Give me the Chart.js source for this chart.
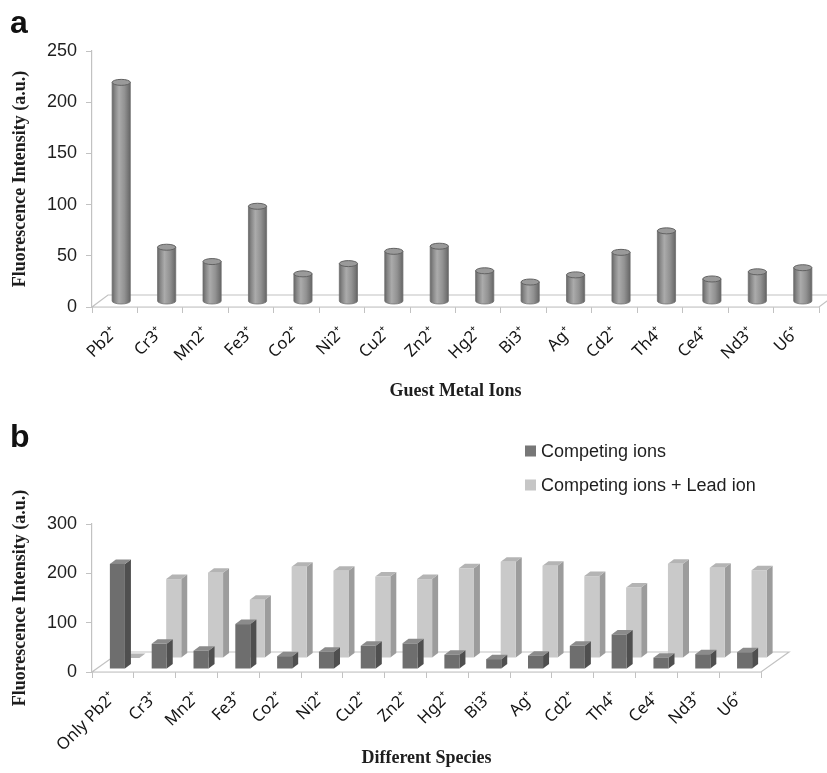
<!DOCTYPE html>
<html>
<head>
<meta charset="utf-8">
<script src="https://cdn.jsdelivr.net/npm/chart.js@4.4.1/dist/chart.umd.min.js"></script>
<style>
  html, body { margin: 0; padding: 0; background: #fff; }
  #wrap { position: relative; width: 827px; height: 773px; overflow: hidden; }
  canvas { position: absolute; left: 0; }
  #chartA { top: 0; }
  #chartB { top: 400px; }
</style>
</head>
<body>
<div id="wrap">
  <canvas id="chartA" width="827" height="406"></canvas>
  <canvas id="chartB" width="827" height="373"></canvas>
</div>
<script>
// ---- Panel a: fluorescence response to each guest metal ion ----
const ionsA = ['Pb2⁺', 'Cr3⁺', 'Mn2⁺', 'Fe3⁺', 'Co2⁺', 'Ni2⁺', 'Cu2⁺', 'Zn2⁺',
               'Hg2⁺', 'Bi3⁺', 'Ag⁺', 'Cd2⁺', 'Th4⁺', 'Ce4⁺', 'Nd3⁺', 'U6⁺'];
const intensityA = [214, 53, 39, 93, 27, 37, 49, 54, 30, 19, 26, 48, 69, 22, 29, 33];
const ticksA = [0, 50, 100, 150, 200, 250];

// ---- Panel b: competition experiment ----
const speciesB = ['Only Pb2⁺', 'Cr3⁺', 'Mn2⁺', 'Fe3⁺', 'Co2⁺', 'Ni2⁺', 'Cu2⁺', 'Zn2⁺',
                  'Hg2⁺', 'Bi3⁺', 'Ag⁺', 'Cd2⁺', 'Th4⁺', 'Ce4⁺', 'Nd3⁺', 'U6⁺'];
const competingIons = [213, 51, 37, 91, 26, 35, 47, 52, 29, 20, 27, 47, 70, 23, 30, 34];
const competingPlusLead = [0, 160, 173, 118, 185, 177, 165, 160, 182, 195, 187, 166, 143, 191, 183, 178];
const ticksB = [0, 100, 200, 300];
const seriesNamesB = ['Competing ions', 'Competing ions + Lead ion'];

const SANS = "'Liberation Sans', Arial, sans-serif";
const LABEL = "'Noto Sans', 'DejaVu Sans', sans-serif";
const SERIF = "'Liberation Serif', 'Times New Roman', serif";
const AXIS_GRAY = '#c2c2c2';
const TEXT = '#1e1e1e';

// oblique floor under the columns
function floorPlugin(dx, dy) {
  return {
    id: 'floor',
    beforeDatasetsDraw(chart) {
      const { ctx, chartArea } = chart;
      const y0 = chart.scales.y.getPixelForValue(0);
      const l = chartArea.left, r = chartArea.right;
      ctx.save();
      ctx.beginPath();
      ctx.moveTo(l, y0);
      ctx.lineTo(r, y0);
      ctx.lineTo(r + dx, y0 + dy);
      ctx.lineTo(l + dx, y0 + dy);
      ctx.closePath();
      ctx.fillStyle = '#ffffff';
      ctx.fill();
      ctx.strokeStyle = AXIS_GRAY;
      ctx.lineWidth = 1.2;
      ctx.stroke();
      ctx.restore();
    }
  };
}

// cylinders standing half-way back on the floor
const cylinderPlugin = {
  id: 'cylinders',
  afterDatasetsDraw(chart) {
    const ctx = chart.ctx;
    const meta = chart.getDatasetMeta(0);
    const shiftX = 6.5, shiftY = -5.5, ry = 3;
    ctx.save();
    meta.data.forEach(el => {
      const w = el.width;
      const cx = el.x + shiftX;
      const yb = el.base + shiftY;
      const yt = el.y + shiftY;
      const x0 = cx - w / 2, x1 = cx + w / 2;
      const g = ctx.createLinearGradient(x0, 0, x1, 0);
      g.addColorStop(0, '#676767');
      g.addColorStop(0.15, '#868686');
      g.addColorStop(0.38, '#ababab');
      g.addColorStop(0.68, '#929292');
      g.addColorStop(0.9, '#747474');
      g.addColorStop(1, '#636363');
      ctx.beginPath();
      ctx.moveTo(x0, yt);
      ctx.lineTo(x0, yb);
      ctx.ellipse(cx, yb, w / 2, ry, 0, Math.PI, 0, true);
      ctx.lineTo(x1, yt);
      ctx.closePath();
      ctx.fillStyle = g;
      ctx.fill();
      ctx.strokeStyle = '#707070';
      ctx.lineWidth = 0.8;
      ctx.stroke();
      ctx.beginPath();
      ctx.ellipse(cx, yt, w / 2, ry, 0, 0, Math.PI * 2);
      ctx.fillStyle = '#9a9a9a';
      ctx.fill();
      ctx.strokeStyle = '#626262';
      ctx.lineWidth = 1;
      ctx.stroke();
    });
    ctx.restore();
  }
};

// square columns, back row first; each row sits at its own depth
const rowStyles = [
  { dx: 4.5, dy: -3, front: '#6e6e6e', side: '#4f4f4f', top: '#8b8b8b', key: '#777777' },
  { dx: 19, dy: -14, front: '#c9c9c9', side: '#9c9c9c', top: '#b4b4b4', key: '#c6c6c6' }
];
const boxPlugin = {
  id: 'boxes',
  afterDatasetsDraw(chart) {
    const ctx = chart.ctx;
    const ddx = 6, ddy = -4.5;
    ctx.save();
    [1, 0].forEach(di => {
      const st = rowStyles[di];
      chart.getDatasetMeta(di).data.forEach(el => {
        const w = el.width;
        const h = el.base - el.y;
        const x0 = el.x - w / 2 + st.dx, x1 = x0 + w;
        const yb = el.base + st.dy, yt = yb - h;
        // side
        ctx.beginPath();
        ctx.moveTo(x1, yb); ctx.lineTo(x1 + ddx, yb + ddy);
        ctx.lineTo(x1 + ddx, yt + ddy); ctx.lineTo(x1, yt); ctx.closePath();
        ctx.fillStyle = st.side; ctx.fill();
        // top
        ctx.beginPath();
        ctx.moveTo(x0, yt); ctx.lineTo(x1, yt);
        ctx.lineTo(x1 + ddx, yt + ddy); ctx.lineTo(x0 + ddx, yt + ddy); ctx.closePath();
        ctx.fillStyle = st.top; ctx.fill();
        // front
        if (h > 0) {
          ctx.fillStyle = st.front;
          ctx.fillRect(x0, yt, w, h);
        }
      });
    });
    ctx.restore();
  }
};

function panelLetter(letter, x, y) {
  return {
    id: 'panelLetter',
    afterDraw(chart) {
      const ctx = chart.ctx;
      ctx.save();
      ctx.font = 'bold 32px ' + SANS;
      ctx.fillStyle = '#111';
      ctx.textBaseline = 'alphabetic';
      ctx.fillText(letter, x, y);
      ctx.restore();
    }
  };
}

const legendPluginB = {
  id: 'legendB',
  afterDraw(chart) {
    const ctx = chart.ctx;
    ctx.save();
    ctx.font = '18px ' + SANS;
    ctx.textBaseline = 'middle';
    seriesNamesB.forEach((name, i) => {
      const y = 51 + i * 34;
      ctx.fillStyle = rowStyles[i].key;
      ctx.fillRect(525, y - 5.5, 11, 11);
      ctx.fillStyle = TEXT;
      ctx.fillText(name, 541, y + 1);
    });
    ctx.restore();
  }
};

function yScale(max, step, tickList) {
  return {
    min: 0, max: max,
    afterFit(s) { s.width = 92; },
    afterBuildTicks(s) { s.ticks = tickList.map(v => ({ value: v })); },
    ticks: { stepSize: step, font: { family: SANS, size: 18 }, color: TEXT, padding: 9 },
    grid: { drawOnChartArea: false, tickLength: 6, color: AXIS_GRAY },
    border: { color: AXIS_GRAY, width: 1.2 },
    title: {
      display: true, text: 'Fluorescence Intensity (a.u.)',
      font: { family: SERIF, size: 18, weight: 'bold' }, color: TEXT,
      padding: { top: 10, bottom: 0 }
    }
  };
}

function xScale(height, title) {
  return {
    afterFit(s) { s.height = height; },
    grid: { drawOnChartArea: false, tickLength: 6, color: AXIS_GRAY, offset: true },
    border: { color: AXIS_GRAY, width: 1.2 },
    ticks: { maxRotation: 45, minRotation: 45, autoSkip: false, font: { family: LABEL, size: 16.5 }, color: '#151515', padding: 10 },
    title: {
      display: true, text: title,
      font: { family: SERIF, size: 18, weight: 'bold' }, color: TEXT,
      padding: { top: 0, bottom: 4 }
    }
  };
}

new Chart(document.getElementById('chartA'), {
  type: 'bar',
  data: {
    labels: ionsA,
    datasets: [{
      label: 'Fluorescence Intensity',
      data: intensityA,
      backgroundColor: 'rgba(0,0,0,0)',
      borderWidth: 0,
      barPercentage: 0.4,
      categoryPercentage: 1
    }]
  },
  options: {
    responsive: false,
    animation: false,
    layout: { padding: { left: 0, right: 8, top: 51, bottom: 0 } },
    plugins: { legend: { display: false }, tooltip: { enabled: false } },
    scales: { x: xScale(99, 'Guest Metal Ions'), y: yScale(250, 50, ticksA) }
  },
  plugins: [floorPlugin(16, -12), cylinderPlugin, panelLetter('a', 10, 33)]
});

new Chart(document.getElementById('chartB'), {
  type: 'bar',
  data: {
    labels: speciesB,
    datasets: [
      { label: seriesNamesB[0], data: competingIons, backgroundColor: 'rgba(0,0,0,0)', borderWidth: 0,
        grouped: false, barPercentage: 0.36, categoryPercentage: 1 },
      { label: seriesNamesB[1], data: competingPlusLead, backgroundColor: 'rgba(0,0,0,0)', borderWidth: 0,
        grouped: false, barPercentage: 0.36, categoryPercentage: 1 }
    ]
  },
  options: {
    responsive: false,
    animation: false,
    layout: { padding: { left: 0, right: 66, top: 124, bottom: 0 } },
    plugins: { legend: { display: false }, tooltip: { enabled: false } },
    scales: { x: xScale(101, 'Different Species'), y: yScale(300, 100, ticksB) }
  },
  plugins: [floorPlugin(28, -20), boxPlugin, legendPluginB, panelLetter('b', 10, 47)]
});
</script>
</body>
</html>
